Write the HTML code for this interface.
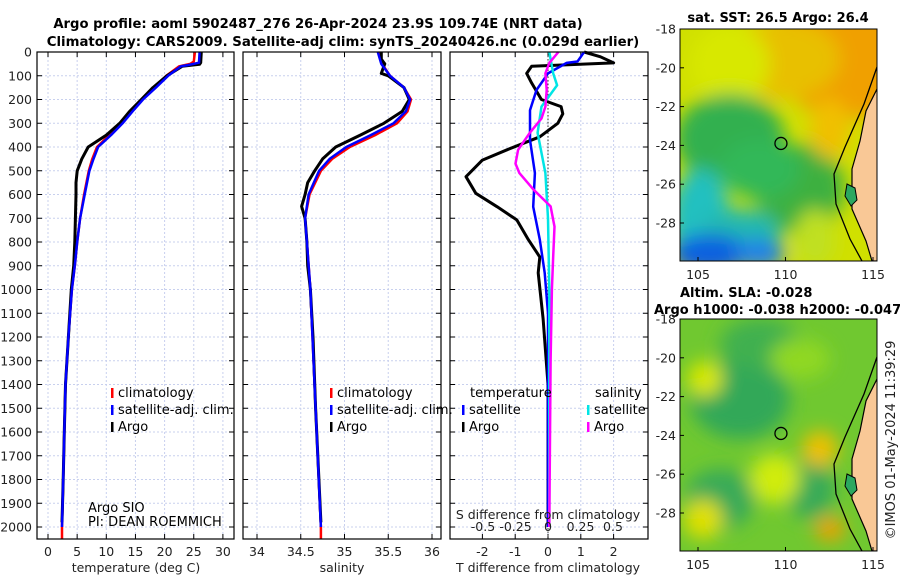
<!DOCTYPE html>
<html><head><meta charset="utf-8"><style>
body{margin:0;background:#fff;}
svg{display:block;font-family:"DejaVu Sans","Liberation Sans",sans-serif;}
.tk{font-size:12.5px;fill:#222;}
.lg{font-size:13px;fill:#000;}
</style></head><body>
<svg id="c" width="900" height="580" viewBox="0 0 900 580">
<defs>
<filter id="bl" x="-50%" y="-50%" width="200%" height="200%"><feGaussianBlur stdDeviation="9"/></filter>
<clipPath id="m1"><rect x="680" y="29" width="197" height="232"/></clipPath>
<clipPath id="m2"><rect x="680" y="319" width="197" height="232"/></clipPath>
</defs>
<text x="318" y="28" text-anchor="middle" font-weight="bold" font-size="13.2">Argo profile: aoml 5902487_276 26-Apr-2024 23.9S 109.74E (NRT data)</text>
<text x="343" y="46" text-anchor="middle" font-weight="bold" font-size="13.3">Climatology: CARS2009. Satellite-adj clim: synTS_20240426.nc (0.029d earlier)</text>
<g id="panels"></g>
<g id="maps"></g>
<text transform="translate(895,440) rotate(-90)" text-anchor="middle" font-size="13" fill="#222">©IMOS 01-May-2024 11:39:29</text>
</svg>
<script>
// ---- data ----
const depthTicks=[0,100,200,300,400,500,600,700,800,900,1000,1100,1200,1300,1400,1500,1600,1700,1800,1900,2000];
const tTicks=[0,5,10,15,20,25,30];
const sTicks=[34,34.5,35,35.5,36];
const sTickLabels=["34","34.5","35","35.5","36"];
const dTicks=[-2,-1,0,1,2];
const dsTicks=[-0.5,-0.25,0,0.25,0.5];
const dsTickLabels=["-0.5","-0.25","0","0.25","0.5"];

const tClimDepth=[0,40,50,60,100,150,200,250,300,350,400,450,500,600,700,800,900,1000,1200,1400,1600,1800,2000,2050];
const tClim=[25.2,25.0,24.4,22.5,20.3,18.3,16.2,14.4,12.6,10.5,8.4,7.6,7.0,6.2,5.5,5.0,4.6,4.1,3.5,3.0,2.8,2.6,2.4,2.4];
const tSatDepth=[0,45,55,60,100,150,200,250,300,350,400,450,500,600,700,800,900,1000,1200,1400,1600,1800,2000];
const tSat=[26.0,25.9,24.0,22.8,20.6,18.5,16.3,14.5,12.8,10.8,8.6,7.8,7.1,6.3,5.5,5.0,4.6,4.1,3.5,3.0,2.8,2.6,2.4];
const tArgoDepth=[0,45,52,60,100,150,200,250,300,350,400,450,500,550,600,700,800,900,1000,1200,1400,1600,1800,1980];
const tArgo=[26.3,26.2,26.0,23.0,20.4,18.0,16.0,14.0,12.3,10.0,6.9,5.8,5.0,4.8,4.8,4.7,4.6,4.4,4.0,3.5,3.0,2.8,2.6,2.4];

const sClimDepth=[0,50,100,150,200,250,300,350,400,450,500,600,700,800,1000,1500,2000,2050];
const sClim=[35.40,35.43,35.52,35.68,35.76,35.72,35.60,35.35,35.06,34.86,34.73,34.60,34.55,34.57,34.61,34.67,34.73,34.73];
const sSatDepth=[0,50,100,150,200,250,300,350,400,450,500,600,700,800,1000,1500,2000];
const sSat=[35.38,35.42,35.52,35.68,35.75,35.70,35.56,35.30,35.02,34.83,34.71,34.59,34.55,34.57,34.61,34.67,34.73];
const sArgoDepth=[0,30,50,70,90,100,150,200,250,300,350,400,450,500,550,600,650,700,800,900,1000,1200,1500,1980];
const sArgo=[35.42,35.42,35.46,35.44,35.42,35.50,35.68,35.74,35.66,35.45,35.18,34.90,34.75,34.66,34.58,34.55,34.51,34.55,34.57,34.58,34.61,34.64,34.67,34.73];

const dtSatDepth=[0,20,40,46,90,160,245,370,510,652,790,930,1100,1400,2000];
const dtSat=[1.1,1.0,0.9,0.57,0.0,-0.35,-0.55,-0.55,-0.4,-0.45,-0.25,-0.1,0.0,0.0,0.0];
const dtArgoDepth=[0,20,46,60,90,130,200,230,260,300,357,412,455,525,595,652,707,790,863,930,1123,1400,2000];
const dtArgo=[1.1,1.6,2.0,-0.5,-0.65,-0.5,-0.2,0.4,0.45,0.3,-0.25,-1.25,-2.0,-2.5,-2.2,-1.55,-0.95,-0.6,-0.25,-0.3,-0.15,0.0,0.0];
const dsSatDepth=[0,90,140,230,340,510,700,1000,2000];
const dsSat=[0.01,0.04,0.07,-0.05,-0.08,-0.02,0.0,0.01,0.01];
const dsArgoDepth=[0,46,90,160,230,280,340,412,470,510,580,650,735,860,1000,1300,2000];
const dsArgo=[0.08,0.01,-0.02,-0.01,-0.02,-0.05,-0.14,-0.23,-0.25,-0.22,-0.11,0.02,0.05,0.04,0.03,0.02,0.01];

// ---- helpers ----
const NS="http://www.w3.org/2000/svg";
const Y0=52, YK=0.2375, PT=52, PB=539;
const yD=d=>Y0+d*YK;
function mk(tag,attrs,parent){const e=document.createElementNS(NS,tag);for(const k in attrs)e.setAttribute(k,attrs[k]);parent.appendChild(e);return e;}
const G=document.getElementById('panels');
function panel(name){
  const g=mk('g',{},G);
  
  
  return g;
}
function grid(g,x0,x1,xs,xf){
  depthTicks.forEach(d=>{mk('line',{x1:x0,x2:x1,y1:yD(d),y2:yD(d),stroke:'#c8d0ee','stroke-dasharray':'2,2','stroke-width':1},g);
    mk('line',{x1:x0,x2:x0+5,y1:yD(d),y2:yD(d),stroke:'#000'},g);mk('line',{x1:x1-5,x2:x1,y1:yD(d),y2:yD(d),stroke:'#000'},g);});
  xs.forEach(v=>{mk('line',{x1:xf(v),x2:xf(v),y1:PT,y2:PB,stroke:'#c8d0ee','stroke-dasharray':'2,2','stroke-width':1},g);
    mk('line',{x1:xf(v),x2:xf(v),y1:PB,y2:PB-5,stroke:'#000'},g);mk('line',{x1:xf(v),x2:xf(v),y1:PT,y2:PT+5,stroke:'#000'},g);});
}
function frame(g,x0,x1){mk('rect',{x:x0,y:PT,width:x1-x0,height:PB-PT,fill:'none',stroke:'#000','stroke-width':1.2},g);}
function line(g,xs,ds,xf,color,w,name){
  const p=mk('polyline',{points:xs.map((v,i)=>xf(v).toFixed(1)+','+yD(ds[i]).toFixed(1)).join(' '),fill:'none',stroke:color,'stroke-width':w,'stroke-linejoin':'round'},g);
  
  
}
function txt(g,x,y,s,cls,anchor,name){const t=mk('text',{x:x,y:y,'text-anchor':anchor||'start',class:cls},g);t.textContent=s;
  
  return t;}
function legend(g,x,y,color,label,name){mk('rect',{x:x,y:y-9,width:2.5,height:10,fill:color},g);txt(g,x+7,y,label,'lg','start',name);}

// Panel 1: temperature
const xT=v=>48+v*5.83;
let g1=panel('temperature-panel');
grid(g1,37,234,tTicks,xT);
line(g1,tClim,tClimDepth,xT,'#ff0000',2.5,'temp-climatology-line');
line(g1,tArgo,tArgoDepth,xT,'#000',3,'temp-argo-line');
line(g1,tSat,tSatDepth,xT,'#0000ff',2.5,'temp-satellite-line');
frame(g1,37,234);
depthTicks.forEach(d=>txt(g1,32,yD(d)+4.5,String(d),'tk','end','depth-tick-label'));
tTicks.forEach(v=>txt(g1,xT(v),556,String(v),'tk','middle','temp-tick-label'));
txt(g1,136,572,'temperature (deg C)','tk','middle','temp-axis-title');
legend(g1,111,397,'#ff0000','climatology','legend-climatology');
legend(g1,111,414,'#0000ff','satellite-adj. clim.','legend-satellite-adj');
legend(g1,111,431,'#000','Argo','legend-argo');
txt(g1,88,512,'Argo SIO','lg','start','argo-institution').setAttribute('font-size','11');
txt(g1,88,526,'PI: DEAN ROEMMICH','lg','start','argo-pi').setAttribute('font-size','11');

// Panel 2: salinity
const xS=v=>257+(v-34)*87.5;
let g2=panel('salinity-panel');
grid(g2,243,441,sTicks,xS);
line(g2,sClim,sClimDepth,xS,'#ff0000',2.5,'sal-climatology-line');
line(g2,sArgo,sArgoDepth,xS,'#000',3,'sal-argo-line');
line(g2,sSat,sSatDepth,xS,'#0000ff',2.5,'sal-satellite-line');
frame(g2,243,441);
sTicks.forEach((v,i)=>txt(g2,xS(v),556,sTickLabels[i],'tk','middle','sal-tick-label'));
txt(g2,342,572,'salinity','tk','middle','sal-axis-title');
legend(g2,330,397,'#ff0000','climatology','legend-climatology-2');
legend(g2,330,414,'#0000ff','satellite-adj. clim.','legend-satellite-adj-2');
legend(g2,330,431,'#000','Argo','legend-argo-2');

// Panel 3: differences
const xDT=v=>548+v*32.8;
const xDS=v=>548+v*130;
let g3=panel('difference-panel');
grid(g3,450,648,dTicks,xDT);
mk('line',{x1:548,x2:548,y1:PT,y2:PB,stroke:'#333','stroke-dasharray':'1.5,2'},g3);
line(g3,dtArgo,dtArgoDepth,xDT,'#000',3,'tdiff-argo-line');
line(g3,dtSat,dtSatDepth,xDT,'#0000ff',2.5,'tdiff-satellite-line');
line(g3,dsSat,dsSatDepth,xDS,'#00e5e5',2.5,'sdiff-satellite-line');
line(g3,dsArgo,dsArgoDepth,xDS,'#ff00ff',2.5,'sdiff-argo-line');
frame(g3,450,648);
dTicks.forEach(v=>txt(g3,xDT(v),556,String(v),'tk','middle','tdiff-tick-label'));
dsTicks.forEach((v,i)=>txt(g3,xDS(v),531,dsTickLabels[i],'tk','middle','sdiff-tick-label'));
txt(g3,548,519,'S difference from climatology','tk','middle','sdiff-axis-title');
txt(g3,548,572,'T difference from climatology','tk','middle','tdiff-axis-title');
txt(g3,470,397,'temperature','lg','start','legend-temperature-header');
legend(g3,462,414,'#0000ff','satellite','legend-t-satellite');
legend(g3,462,431,'#000','Argo','legend-t-argo');
txt(g3,595,397,'salinity','lg','start','legend-salinity-header');
legend(g3,587,414,'#00e5e5','satellite','legend-s-satellite');
legend(g3,587,431,'#ff00ff','Argo','legend-s-argo');

// ---- maps ----
const M=document.getElementById('maps');
const lonX=v=>698+(v-105)*17.5;
function map(top,clip,blobs,base,name,title){
  const g=mk('g',{},M);
  
  
  const latY=v=>top+(-18-v)*19.4;
  const c=mk('g',{'clip-path':'url(#'+clip+')'},g);
  mk('rect',{x:680,y:top,width:197,height:232,fill:base},c);
  const b=mk('g',{filter:'url(#bl)'},c);
  blobs.forEach(o=>mk('ellipse',{cx:o[0],cy:top+o[1],rx:o[2],ry:o[3],fill:o[4]},b));
  const land='M877,'+(top+60)+' L866,'+(top+82)+' L860,'+(top+112)+' L852,'+(top+140)+' L852,'+(top+180)+' L866,'+(top+212)+' L872,'+(top+232)+' L880,'+(top+232)+' L880,'+(top+60)+' Z';
  mk('path',{d:land,fill:'#f9c896',stroke:'#000','stroke-width':1.2},c);
  mk('path',{d:'M877,'+(top+38)+' L864,'+(top+75)+' L845,'+(top+118)+' L834,'+(top+145)+' L836,'+(top+175)+' L850,'+(top+210)+' L862,'+(top+232),fill:'none',stroke:'#000','stroke-width':1.3},c);
  mk('path',{d:'M847,'+(top+155)+' l8,4 l2,12 l-6,6 l-6,-10 z',fill:'#2aa860',stroke:'#000'},c);
  const circ=mk('circle',{cx:lonX(109.74),cy:latY(-23.9),r:6,fill:'none',stroke:'#000','stroke-width':1.3},g);
  
  
  mk('rect',{x:680,y:top,width:197,height:232,fill:'none',stroke:'#000','stroke-width':1},g);
  [-18,-20,-22,-24,-26,-28].forEach(v=>{mk('line',{x1:680,x2:684,y1:latY(v),y2:latY(v),stroke:'#000'},g);
    txt(g,676,latY(v)+4.5,String(v),'tk','end','lat-tick-label');});
  [105,110,115].forEach(v=>{mk('line',{x1:lonX(v),x2:lonX(v),y1:top+232,y2:top+228,stroke:'#000'},g);
    txt(g,lonX(v),top+250,String(v),'tk','middle','lon-tick-label');});
  title.forEach(t=>{const e=txt(g,t[0],t[1],t[2],'lg',t[4],t[3]);e.setAttribute('font-weight','bold');});
}
map(29,'m1',[
 [850,20,80,70,'#f0a000'],[780,30,60,40,'#e8c000'],[730,35,40,40,'#d8e800'],
 [730,110,55,45,'#32b050'],[800,160,45,45,'#3cb040'],[760,140,40,30,'#30b858'],
 [700,190,30,50,'#20c0c0'],[740,205,40,25,'#20b8b0'],[710,225,40,20,'#1060e0'],
 [760,225,25,15,'#2080e8'],[815,210,20,30,'#c0e020'],[830,100,20,30,'#f0c000']
],'#d0e000','sst-map',[[778,22,'sat. SST: 26.5 Argo: 26.4','sst-map-title','middle'],[680,297,'Altim. SLA: -0.028','sla-value-label','start'],[654,314,'Argo h1000: -0.038 h2000: -0.047','argo-height-label','start']]);
map(319,'m2',[
 [740,80,50,40,'#30a858'],[720,180,35,30,'#38aa58'],[810,170,25,30,'#38aa58'],[760,25,40,25,'#40b050'],
 [705,60,18,18,'#d8e800'],[703,200,20,20,'#e0e000'],[775,160,25,25,'#d0ec10'],[820,130,18,18,'#f0c000'],
 [830,210,15,12,'#f0a000'],[800,40,30,20,'#90d820']
],'#70c830','sla-map',[]);
</script>
</body></html>
